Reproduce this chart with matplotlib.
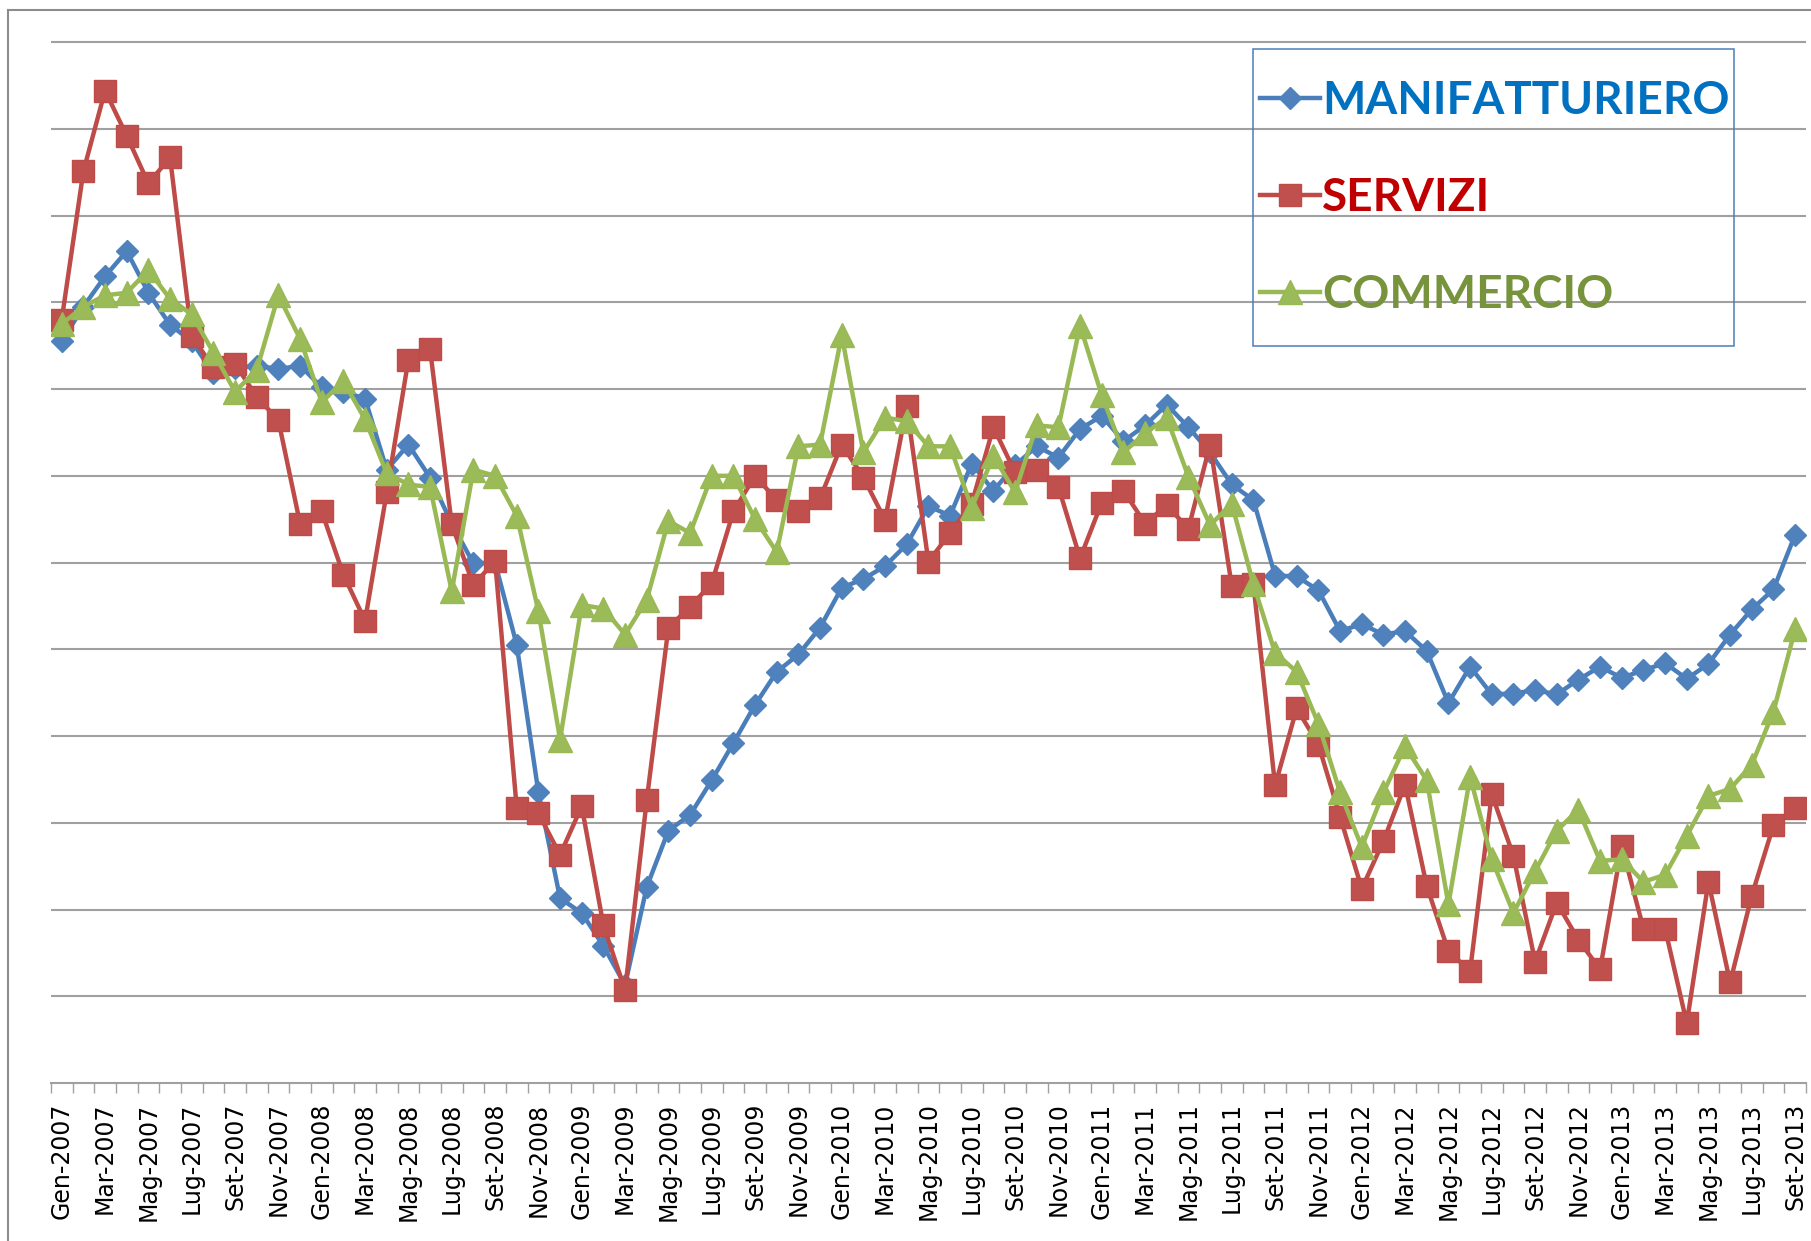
import numpy as np
import matplotlib.pyplot as plt
from matplotlib.lines import Line2D
from matplotlib.patches import Rectangle

# mesi italiani per le etichette dell'asse x
mesi = ['Gen', 'Feb', 'Mar', 'Apr', 'Mag', 'Giu', 'Lug', 'Ago', 'Set', 'Ott', 'Nov', 'Dic']
anni = [2007, 2008, 2009, 2010, 2011, 2012, 2013]
periodi = [m + '-' + str(a) for a in anni for m in mesi][:81]   # Gen-2007 ... Set-2013

manifatturiero = [8.55, 8.95, 9.30, 9.59, 9.11, 8.74, 8.55, 8.18, 8.24, 8.27,
                  8.23, 8.27, 8.02, 7.97, 7.89, 7.07, 7.36, 6.98, 6.45, 5.99,
                  6.00, 5.05, 3.35, 2.13, 1.96, 1.58, 1.13, 2.26, 2.91, 3.09,
                  3.49, 3.92, 4.36, 4.74, 4.94, 5.25, 5.71, 5.81, 5.96, 6.21,
                  6.65, 6.54, 7.14, 6.83, 7.12, 7.34, 7.21, 7.54, 7.69, 7.40,
                  7.58, 7.82, 7.56, 7.27, 6.90, 6.72, 5.85, 5.84, 5.68, 5.21,
                  5.29, 5.17, 5.21, 4.98, 4.38, 4.80, 4.48, 4.49, 4.53, 4.48,
                  4.65, 4.80, 4.67, 4.76, 4.84, 4.66, 4.83, 5.17, 5.46, 5.69,
                  6.32]

servizi = [8.80, 10.51, 11.44, 10.92, 10.37, 10.67, 8.61, 8.25, 8.29, 7.91,
           7.64, 6.45, 6.59, 5.86, 5.33, 6.81, 8.34, 8.46, 6.44, 5.74,
           6.02, 3.17, 3.11, 2.63, 3.19, 1.82, 1.07, 3.26, 5.25, 5.49,
           5.76, 6.59, 7.00, 6.72, 6.59, 6.74, 7.36, 6.98, 6.49, 7.80,
           6.01, 6.34, 6.68, 7.56, 7.04, 7.07, 6.87, 6.05, 6.69, 6.83,
           6.45, 6.66, 6.39, 7.36, 5.73, 5.75, 3.43, 4.32, 3.90, 3.07,
           2.24, 2.79, 3.44, 2.27, 1.52, 1.29, 3.33, 2.62, 1.40, 2.08,
           1.65, 1.31, 2.73, 1.78, 1.78, 0.69, 2.32, 1.16, 2.16, 2.97,
           3.17]

commercio = [8.75, 8.95, 9.08, 9.11, 9.37, 9.04, 8.86, 8.42, 7.97, 8.22,
             9.08, 8.58, 7.85, 8.09, 7.65, 7.03, 6.90, 6.87, 5.67, 7.07,
             7.00, 6.54, 5.44, 3.96, 5.51, 5.47, 5.17, 5.57, 6.48, 6.34,
             7.00, 7.00, 6.50, 6.12, 7.34, 7.36, 8.62, 7.27, 7.67, 7.63,
             7.34, 7.34, 6.63, 7.23, 6.81, 7.58, 7.56, 8.73, 7.93, 7.27,
             7.49, 7.67, 6.99, 6.43, 6.68, 5.75, 4.96, 4.74, 4.14, 3.35,
             2.72, 3.35, 3.88, 3.49, 2.06, 3.53, 2.58, 1.96, 2.44, 2.91,
             3.15, 2.56, 2.58, 2.32, 2.40, 2.85, 3.31, 3.39, 3.67, 4.28,
             5.23]

x = np.arange(len(periodi))

fig = plt.figure(figsize=(18.11, 12.41), dpi=100)
fig.patch.set_facecolor('white')
ax = fig.add_axes([0.0281, 0.1273, 0.9691, 0.8423])

ax.plot(x, manifatturiero, color='#4A7EBB', lw=3.2, marker='D', ms=11,
        mfc='#4F81BD', mec='#4F81BD', label='MANIFATTURIERO')
ax.plot(x, servizi, color='#BE4B48', lw=3.2, marker='s', ms=16,
        mfc='#C0504D', mec='#BE4B48', label='SERVIZI')
ax.plot(x, commercio, color='#98B954', lw=3.2, marker='^', ms=17,
        mfc='#9BBB59', mec='#98B954', label='COMMERCIO')

ax.set_xlim(-0.5, len(periodi) - 0.5)
ax.set_ylim(0, 12.05)

# griglia orizzontale, nessun asse y visibile
ax.set_yticks(np.arange(1, 13))
ax.yaxis.grid(True, color='#A0A0A0', lw=1.5)
ax.set_axisbelow(True)
ax.tick_params(axis='y', length=0, labelleft=False)

for s in ['left', 'right', 'top']:
    ax.spines[s].set_visible(False)
ax.spines['bottom'].set_color('#A0A0A0')
ax.spines['bottom'].set_linewidth(1.5)

ax.set_xticks(x[::2])
ax.set_xticklabels(periodi[::2], rotation=90, fontsize=17)
ax.set_xticks(np.arange(-0.5, len(periodi), 1), minor=True)
ax.tick_params(axis='x', which='major', length=0, pad=14)
ax.tick_params(axis='x', which='minor', length=7, width=1, color='#A0A0A0', direction='out')

leg = ax.legend(loc='upper left', bbox_to_anchor=(1260 / 1811, 1 - 80 / 1241),
                bbox_transform=fig.transFigure, borderaxespad=0, frameon=False,
                prop={'family': 'Lato', 'weight': 'bold', 'size': 33},
                labelcolor=['#0070C0', '#C00000', '#77933C'],
                borderpad=0, handlelength=1.3, handletextpad=0.05, labelspacing=1.2)

# riquadro della legenda (trasparente, la griglia resta visibile)
fig.add_artist(Rectangle((1253 / 1811, 1 - 345.6 / 1241), (1734 - 1253) / 1811, 297 / 1241,
                         transform=fig.transFigure, fill=False, edgecolor='#4A7EBB', lw=1.1))

# cornice esterna del grafico
fig.add_artist(Line2D([8 / 1811, 8 / 1811], [0, 1 - 9.6 / 1241], transform=fig.transFigure,
                      color='#8C8C8C', lw=1.5))
fig.add_artist(Line2D([8 / 1811, 1], [1 - 9.6 / 1241, 1 - 9.6 / 1241], transform=fig.transFigure,
                      color='#8C8C8C', lw=1.5))

plt.savefig('out.png', dpi=100)
